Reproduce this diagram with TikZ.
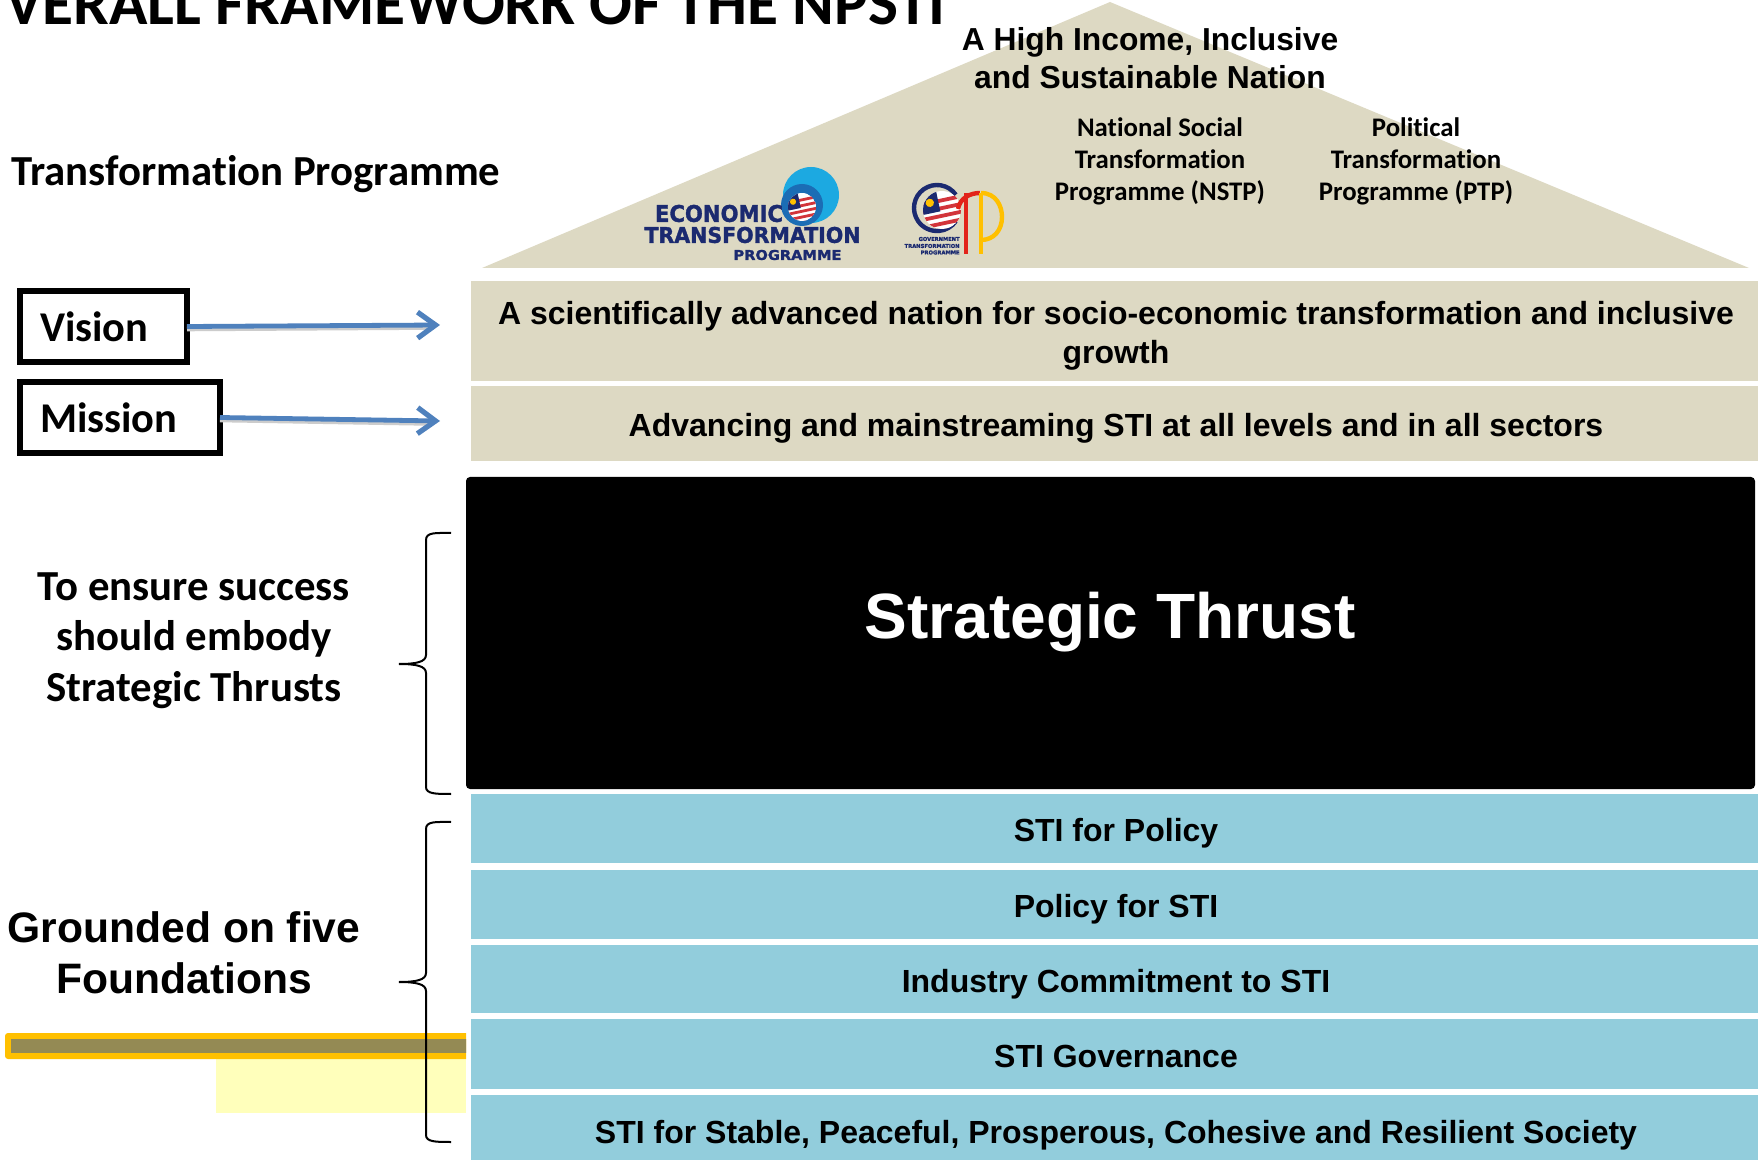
\documentclass[tikz,border=0pt]{standalone}
\usepackage{fontspec}
\setmainfont{Liberation Sans}[BoldFont={Liberation Sans Bold}]
\newfontfamily\calib{Carlito}[BoldFont={Carlito Bold},Ligatures=NoCommon]
\newfontfamily\logofont{DejaVu Sans}[BoldFont={DejaVu Sans Bold},BoldFeatures={FakeBold=1.5}]
\usetikzlibrary{arrows.meta}
\definecolor{beigefill}{HTML}{DDD9C3}
\definecolor{bluefill}{HTML}{92CDDC}
\definecolor{arrowblue}{HTML}{4F81BD}
\definecolor{goldline}{HTML}{FFC000}
\definecolor{olivefill}{HTML}{948A54}
\definecolor{paleyellow}{HTML}{FFFFBB}
\definecolor{logonavy}{HTML}{1B2A70}
\definecolor{logosky}{HTML}{1CA9E1}
\definecolor{logoblue}{HTML}{1B6DB5}
\definecolor{logored}{HTML}{E2231A}
\definecolor{flagred}{HTML}{D2343A}
\newcommand{\flagglobe}[3]{%
  \begin{scope}
    \clip (#1,#2) circle (#3);
    \fill[white] (#1,#2) circle (#3);
    \begin{scope}[rotate around={12:(#1,#2)}]
      \foreach \k in {-3,-1,1,3,5}{
        \fill[flagred] (#1-#3*1.2,#2+\k*#3*0.2) rectangle (#1+#3*1.2,#2+\k*#3*0.2+#3*0.2);
      }
      \fill[logonavy] (#1-#3*1.3,#2-#3*1.2) rectangle (#1-#3*0.1,#2+#3*0.05);
      \fill[goldline] (#1-#3*0.55,#2-#3*0.5) circle (#3*0.22);
    \end{scope}
  \end{scope}}
\newcommand{\fitbox}[3]{\resizebox{#1}{#2}{\logofont\bfseries #3}}
\tikzset{
  x=0.5pt,y=-0.5pt,
  callabel/.style={font=\calib\bfseries,inner sep=0pt,align=center},
  bandtext/.style={font=\bfseries\fontsize{16}{19.5}\selectfont,inner sep=0pt,align=center,text=black},
  framebox/.style={draw=black,line width=3pt,fill=white,inner ysep=0pt,inner xsep=10pt,
    font=\calib\bfseries\fontsize{21.2}{24}\selectfont,align=left,minimum height=35.5pt},
  bluearrow/.style={draw=arrowblue,line width=2.4pt,-{Straight Barb[length=9pt,width=13pt,line width=2.6pt]}},
  arrowshadow/.style={draw=black!20,line width=2.4pt},
  bracecurve/.style={draw=black,line width=1pt},
  logotext/.style={inner sep=0pt,text=logonavy},
}
\begin{document}
\begin{tikzpicture}
\useasboundingbox (0,0) rectangle (1758,1160);
\clip (0,0) rectangle (1758,1160);
\fill[white] (0,0) rectangle (1758,1160);

% title and left heading
\node[callabel,anchor=base west,font=\calib\bfseries\fontsize{31.7}{34}\selectfont] (title) at (5,25) {VERALL FRAMEWORK OF THE NPSTI};
\node[callabel,anchor=west,font=\calib\bfseries\fontsize{21.4}{24}\selectfont] (tp) at (11,174) {Transformation Programme};

% roof
\fill[beigefill] (1110,2) -- (1749,268) -- (482,268) -- cycle;
\node[inner sep=0pt,align=center,font=\bfseries\fontsize{15.9}{19}\selectfont] (goal) at (1150,58) {A High Income, Inclusive\\and Sustainable Nation};
\node[callabel,font=\calib\bfseries\fontsize{13.4}{16}\selectfont] (nstp) at (1160,161) {National Social\\Transformation\\Programme (NSTP)};
\node[callabel,font=\calib\bfseries\fontsize{13.4}{16}\selectfont] (ptp) at (1416,161) {Political\\Transformation\\Programme (PTP)};

% ETP logo
\fill[logosky] (811,195) circle (28);
\fill[logoblue] (802,205) circle (21);
\flagglobe{802}{207}{14}
\node[logotext] (etpa) at (719,213.5) {\fitbox{64pt}{8.5pt}{ECONOMIC}};
\node[logotext] (etpb) at (752.5,235) {\fitbox{108pt}{8pt}{TRANSFORMATION}};
\node[logotext] (etpc) at (787.5,255) {\fitbox{54pt}{5pt}{PROGRAMME}};

% GTP logo
\draw[logonavy,line width=2.2pt] (937,208) ++(-35:23) arc[start angle=-35,end angle=-325,radius=23];
\flagglobe{942}{210}{19}
\draw[logored,line width=2.4pt] (966,193) -- (966,254);
\draw[logored,line width=2.2pt] (958,209) .. controls (960,198) and (970,193) .. (980,193);
\draw[goldline,line width=2.4pt] (981,193) -- (981,254);
\draw[goldline,line width=2.2pt] (981,193) .. controls (996,193) and (1002,206) .. (1002,217) .. controls (1002,230) and (994,240) .. (981,240);
\node[logotext,anchor=east] (gtpa) at (960,239) {\fitbox{20.5pt}{2pt}{GOVERNMENT}};
\node[logotext,anchor=east] (gtpb) at (960,246) {\fitbox{27.5pt}{2pt}{TRANSFORMATION}};
\node[logotext,anchor=east] (gtpc) at (960,252.5) {\fitbox{19.5pt}{2pt}{PROGRAMME}};

% vision and mission bands
\fill[beigefill] (471,281) rectangle (1758,381);
\fill[beigefill] (471,386) rectangle (1758,461);
\node[bandtext] (visiontext) at (1116,335.5) {A scientifically advanced nation for socio-economic transformation and inclusive\\growth};
\node[bandtext] (missiontext) at (1116,428) {Advancing and mainstreaming STI at all levels and in all sectors};

% vision and mission boxes
\node[framebox,text width=63.5pt,minimum width=83.5pt] (vision) at (103.5,326.5) {Vision};
\node[framebox,text width=80pt,minimum width=100pt] (mission) at (120,417.5) {Mission};
\coordinate (visionend) at (440,325);
\coordinate (missionend) at (440,421);
\draw[arrowshadow] ([shift={(-1.5pt,-1.2pt)}]vision.east) -- ([shift={(-4pt,-1.2pt)}]visionend);
\draw[arrowshadow] ([shift={(-1.5pt,-1.2pt)}]mission.east) -- ([shift={(-4pt,-1.2pt)}]missionend);
\draw[bluearrow] ([xshift=-1.5pt]vision.east) -- (visionend);
\draw[bluearrow] ([xshift=-1.5pt]mission.east) -- (missionend);

% strategic thrust
\fill[black,rounded corners=2pt] (466,477) rectangle (1755,789);
\node[inner sep=0pt,text=white,font=\bfseries\fontsize{32}{36}\selectfont] (thrust) at (1110,622) {Strategic Thrust};

% left labels
\node[callabel,font=\calib\bfseries\fontsize{21.4}{25.2}\selectfont] (ensure) at (194,640.5) {To ensure success\\should embody\\Strategic Thrusts};
\node[inner sep=0pt,align=center,font=\bfseries\fontsize{21.3}{25.7}\selectfont] (grounded) at (184,952.5) {Grounded on five\\Foundations};

% foundation bands
\fill[bluefill] (471,794) rectangle (1758,863);
\fill[bluefill] (471,870) rectangle (1758,939);
\fill[bluefill] (471,945) rectangle (1758,1013);
\fill[bluefill] (471,1019) rectangle (1758,1089);
\fill[bluefill] (471,1095) rectangle (1758,1160);
\node[bandtext] (f1) at (1116,833) {STI for Policy};
\node[bandtext] (f2) at (1116,909) {Policy for STI};
\node[bandtext] (f3) at (1116,984) {Industry Commitment to STI};
\node[bandtext] (f4) at (1116,1056.5) {STI Governance};
\node[bandtext] (f5) at (1116,1135) {STI for Stable, Peaceful, Prosperous, Cohesive and Resilient Society};

% highlight bar
\fill[paleyellow] (216,1059) rectangle (466,1113);
\begin{scope}
  \clip (0,1020) rectangle (466,1070);
  \fill[goldline,rounded corners=1.5pt] (5,1033) rectangle (480,1059);
  \fill[olivefill] (11,1039) rectangle (480,1053);
\end{scope}

% braces
\draw[bracecurve] (451,533) .. controls (436,533) and (426,532) .. (426,540) -- (426,655) .. controls (426,662) and (416,664) .. (399,664) .. controls (416,664) and (426,666) .. (426,673) -- (426,787) .. controls (426,794) and (436,794) .. (451,794);
\draw[bracecurve] (451,822) .. controls (436,822) and (426,821) .. (426,829) -- (426,973) .. controls (426,980) and (416,982) .. (399,982) .. controls (416,982) and (426,984) .. (426,991) -- (426,1135) .. controls (426,1142) and (436,1142) .. (451,1142);
\end{tikzpicture}
\end{document}
